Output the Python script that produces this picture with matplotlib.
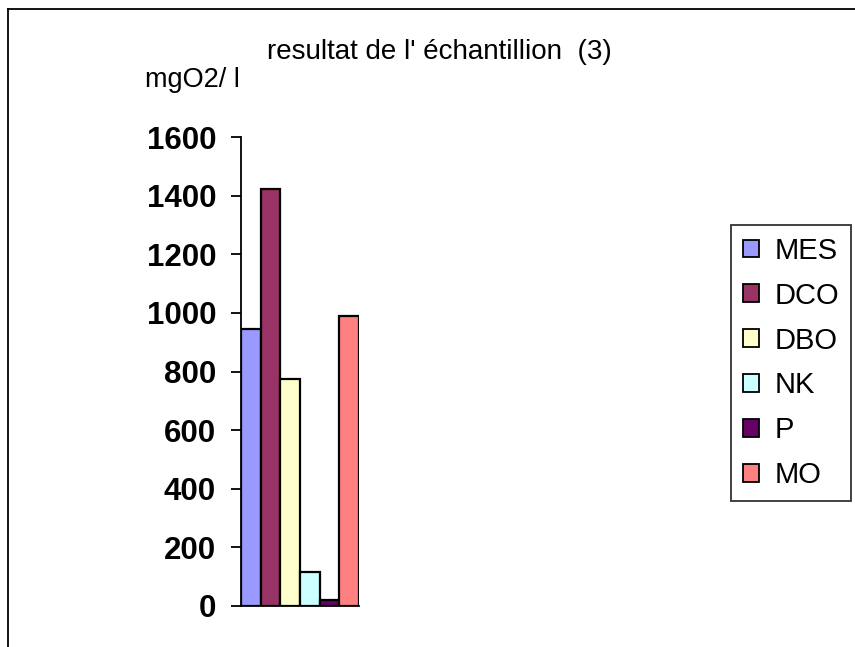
import matplotlib
matplotlib.use("Agg")
import matplotlib.pyplot as plt
from matplotlib.lines import Line2D
from matplotlib.patches import Patch

plt.rcParams['font.family'] = ['Liberation Sans', 'DejaVu Sans']

# data
names = ["MES", "DCO", "DBO", "NK", "P", "MO"]
values = [944, 1422, 773, 116, 19, 991]
colors = ["#9999FF", "#993366", "#FFFFCC", "#CCFFFF", "#660066", "#FF8080"]
yticks = [0, 200, 400, 600, 800, 1000, 1200, 1400, 1600]

fig = plt.figure(figsize=(8.55, 6.47), dpi=100)
ax = fig.add_axes([241/855, 1 - 605.7/647, 118/855, (605.7 - 137.3)/647])

for i, (n, v, c) in enumerate(zip(names, values, colors)):
    ax.bar(i, v, width=1.0, color=c, edgecolor="black", linewidth=1.6, label=n)

ax.set_xlim(-0.5, 5.5)
ax.set_ylim(0, 1600)
ax.set_yticks(yticks)
ax.set_yticklabels([str(t) for t in yticks], fontsize=22.5, fontweight="bold")
ax.tick_params(axis="y", length=7, width=1.3, pad=11)
ax.set_xticks([])
ax.spines["top"].set_visible(False)
ax.spines["right"].set_visible(False)
ax.spines["left"].set_linewidth(1.3)
ax.spines["bottom"].set_linewidth(1.3)

fig.text(439/855, 1 - 52/647, "resultat de l' échantillion  (3)", fontsize=20,
         ha="center", va="center")
fig.text(145/855, 1 - 80/647, "mgO2/ l", fontsize=19.5, ha="left", va="center")

handles = [Patch(facecolor=c, edgecolor="black", linewidth=1.3) for c in colors]
leg = fig.legend(handles, names, loc="upper left",
                 bbox_to_anchor=(731/855, 1 - 225/647), fontsize=21,
                 frameon=True, fancybox=False, edgecolor="black",
                 handlelength=0.55, handleheight=0.55, handletextpad=0.55,
                 labelspacing=0.58, borderpad=0.4, borderaxespad=0)
leg.get_frame().set_linewidth(1.3)

# chart border (cut off at right and bottom)
fig.add_artist(Line2D([8/855, 1.0], [1 - 9/647, 1 - 9/647], color="black", lw=1.3))
fig.add_artist(Line2D([8/855, 8/855], [0, 1 - 9/647], color="black", lw=1.3))

fig.savefig("out.png", dpi=100)
